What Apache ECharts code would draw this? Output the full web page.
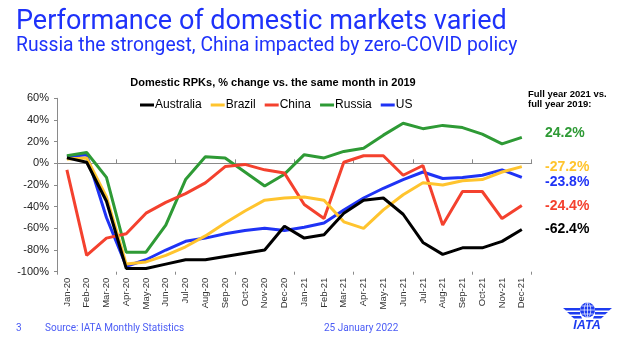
<!DOCTYPE html>
<html>
<head>
<meta charset="utf-8">
<script src="https://cdn.jsdelivr.net/npm/echarts@6/dist/echarts.min.js"></script>
<style>
html,body{margin:0;padding:0;background:#fff;}
#c{width:625px;height:345px;}
</style>
</head>
<body>
<div id="c"></div>
<script>
const months = ['Jan-20','Feb-20','Mar-20','Apr-20','May-20','Jun-20','Jul-20','Aug-20','Sep-20','Oct-20','Nov-20','Dec-20',
                'Jan-21','Feb-21','Mar-21','Apr-21','May-21','Jun-21','Jul-21','Aug-21','Sep-21','Oct-21','Nov-21','Dec-21'];
const australia = [5, 1, -35, -97, -97, -93, -89, -89, -86, -83, -80, -58, -69, -66, -46, -34, -32, -47, -73, -84, -78, -78, -72, -61];
const brazil    = [4, 5, -31, -93, -91, -85, -77, -67, -55, -44, -34, -32, -31, -34, -54, -60, -43, -29, -18, -20, -16, -15, -8, -3];
const china     = [-6, -85, -69, -65, -46, -36, -28, -18, -3, -1, -6, -9, -38, -51, 1, 7, 7, -11, -2, -57, -26, -26, -51, -39];
const russia    = [7, 10, -13, -82, -82, -57, -15, 6, 5, -8, -21, -10, 8, 5, 11, 14, 26, 37, 32, 35, 33, 27, 18, 24];
const us        = [6, 8, -50, -95, -89, -80, -72, -69, -65, -62, -60, -62, -59, -55, -43, -32, -23, -15, -8, -14, -13, -11, -6, -13];
const seriesNames = ['Australia','Brazil','China','Russia','US'];
const fullYearLabels = ['-62.4%','-27.2%','-24.4%','24.2%','-23.8%'];
const yTicks = {min: -100, max: 60, step: 20};

const colors = ['#000000','#FFC42E','#F4412E','#2E9A35','#1F33F5'];
const dataSets = [australia, brazil, china, russia, us];

const chart = echarts.init(document.getElementById('c'), null, {renderer:'canvas'});
const axisFont = '"Liberation Sans", Arial, sans-serif';
const titleBlue = '#1E32FA';

const series = seriesNames.map((n,i)=>({
  name:n, type:'line', data:dataSets[i], xAxisIndex:0, yAxisIndex:0,
  showSymbol:false, symbol:'none', lineStyle:{width:3, color:colors[i]}, itemStyle:{color:colors[i]},
  z: 10 - (i===0?0:i), animation:false
}));

// annotation positions (pixel layout only)
const annY = [229, 167, 206, 133, 182];
const graphics = [
  {type:'text', x:16, y:22, style:{text:'Performance of domestic markets varied', font:'27px Roboto, sans-serif', fill:titleBlue, verticalAlign:'middle'}},
  {type:'text', x:16, y:46.5, style:{text:'Russia the strongest, China impacted by zero-COVID policy', font:'19.3px Roboto, sans-serif', fill:titleBlue, verticalAlign:'middle'}},
  {type:'text', x:273, y:83, style:{text:'Domestic RPKs, % change vs. the same month in 2019', font:'bold 11px '+axisFont, fill:'#000', align:'center', verticalAlign:'middle'}},
  {type:'text', x:528, y:94, style:{text:'Full year 2021 vs.', font:'bold 9.5px '+axisFont, fill:'#000', verticalAlign:'middle'}},
  {type:'text', x:528, y:104, style:{text:'full year 2019:', font:'bold 9.5px '+axisFont, fill:'#000', verticalAlign:'middle'}},
  {type:'text', x:16, y:328, style:{text:'3', font:'10px Roboto, sans-serif', fill:'#4B5CF5', verticalAlign:'middle'}},
  {type:'text', x:45, y:328, style:{text:'Source: IATA Monthly Statistics', font:'10px Roboto, sans-serif', fill:'#4B5CF5', verticalAlign:'middle'}},
  {type:'text', x:324, y:328, style:{text:'25 January 2022', font:'10px Roboto, sans-serif', fill:'#4B5CF5', verticalAlign:'middle'}},
  // IATA logo
  {type:'circle', shape:{cx:587.5, cy:310, r:7.5}, style:{fill:'#1E3CF0'}},
  {type:'ellipse', shape:{cx:587.5, cy:310, rx:3.2, ry:7.5}, style:{fill:'none', stroke:'#fff', lineWidth:0.7}},
  {type:'line', shape:{x1:587.5, y1:302.5, x2:587.5, y2:317.5}, style:{stroke:'#fff', lineWidth:0.7}},
  {type:'line', shape:{x1:580, y1:310, x2:595, y2:310}, style:{stroke:'#fff', lineWidth:0.7}},
  {type:'line', shape:{x1:581.5, y1:306, x2:593.5, y2:306}, style:{stroke:'#fff', lineWidth:0.7}},
  {type:'line', shape:{x1:581.5, y1:314, x2:593.5, y2:314}, style:{stroke:'#fff', lineWidth:0.7}},
  {type:'polygon', shape:{points:[[563,308],[580,308],[580,310.5],[566,310.5]]}, style:{fill:'#1E3CF0'}},
  {type:'polygon', shape:{points:[[567,312],[580,312],[580,314.5],[570,314.5]]}, style:{fill:'#1E3CF0'}},
  {type:'polygon', shape:{points:[[571,316],[581,316],[582,318.5],[574,318.5]]}, style:{fill:'#1E3CF0'}},
  {type:'polygon', shape:{points:[[612,308],[595,308],[595,310.5],[609,310.5]]}, style:{fill:'#1E3CF0'}},
  {type:'polygon', shape:{points:[[608,312],[595,312],[595,314.5],[605,314.5]]}, style:{fill:'#1E3CF0'}},
  {type:'polygon', shape:{points:[[604,316],[594,316],[593,318.5],[601,318.5]]}, style:{fill:'#1E3CF0'}},
  {type:'text', x:587, y:326, style:{text:'IATA', font:'italic bold 12.5px "Liberation Sans", Arial, sans-serif', fill:'#1E3CF0', align:'center', verticalAlign:'middle'}}
];
seriesNames.forEach((n,i)=>{
  graphics.push({type:'text', x:545, y:annY[i], style:{text:fullYearLabels[i], font:'bold 14px '+axisFont, fill:colors[i], verticalAlign:'middle'}});
});

const option = {
  animation:false,
  backgroundColor:'#ffffff',
  grid:{left:57, right:93.3, top:98.3, bottom:73.3, containLabel:false},
  legend:{
    data:seriesNames, left:135, top:94, icon:'rect', itemWidth:14, itemHeight:3, itemGap:9,
    textStyle:{fontFamily:axisFont, fontSize:12, color:'#000', padding:[0,0,0,-4]}
  },
  xAxis:[
    {type:'category', data:months, boundaryGap:true, position:'bottom',
     axisLine:{show:false, onZero:false}, axisTick:{show:false}, splitLine:{show:false},
     axisLabel:{rotate:90, fontFamily:axisFont, fontSize:9.5, color:'#333', margin:6, interval:0}},
    {type:'category', data:months, boundaryGap:true, position:'bottom',
     axisLine:{show:true, onZero:true, lineStyle:{color:'#8a8a8a', width:1}},
     axisTick:{show:true, inside:true, length:4, lineStyle:{color:'#8a8a8a'}}, axisLabel:{show:false}, splitLine:{show:false}},
    {type:'category', data:months, boundaryGap:true, position:'bottom',
     axisLine:{show:false, onZero:true},
     axisTick:{show:true, inside:false, length:3, lineStyle:{color:'#8a8a8a'}}, axisLabel:{show:false}, splitLine:{show:false}}
  ],
  yAxis:{type:'value', min:yTicks.min, max:yTicks.max, interval:yTicks.step,
    axisLine:{show:true, lineStyle:{color:'#8a8a8a'}}, axisTick:{show:true, length:3, lineStyle:{color:'#8a8a8a'}},
    splitLine:{show:false},
    axisLabel:{formatter:'{value}%', fontFamily:axisFont, fontSize:11, color:'#222', margin:8}},
  series:series,
  graphic:graphics
};
chart.setOption(option);
</script>
</body>
</html>
